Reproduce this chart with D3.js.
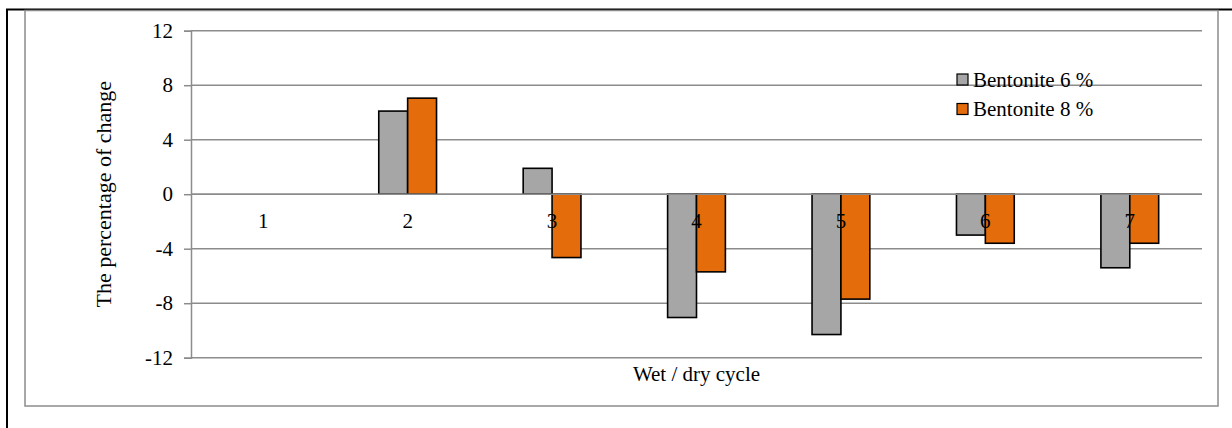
<!DOCTYPE html>
<html>
<head>
<meta charset="utf-8">
<script src="https://cdn.jsdelivr.net/npm/d3@7"></script>
<style>
  html, body { margin: 0; padding: 0; background: #fff; }
  svg { display: block; }
  svg text { font-family: "Liberation Serif", "Times New Roman", Times, serif !important; fill: #000; }
</style>
</head>
<body>
<svg id="chart" width="1232" height="428"></svg>
<script>
// Wet / dry cycle numbers
const cycles = ["1", "2", "3", "4", "5", "6", "7"];
// Percentage of change per cycle
const bentonite6 = [0, 6.1, 1.9, -9.05, -10.3, -3.0, -5.4];
const bentonite8 = [0, 7.05, -4.65, -5.7, -7.7, -3.6, -3.6];
const seriesNames = ["Bentonite 6 %", "Bentonite 8 %"];
const seriesColors = ["#a6a6a6", "#e46c0a"];
const yTicks = [-12, -8, -4, 0, 4, 8, 12];

const rows = cycles.map((c, i) => ({ cycle: c, values: [bentonite6[i], bentonite8[i]] }));

const serif = '"Liberation Serif", "Times New Roman", Times, serif';
const svg = d3.select("#chart").attr("font-family", serif);
const font = 21;
const grid = "#8c8c8c";

// outer frame (black) and chart frame (gray)
svg.append("path")
  .attr("d", "M7,428 L7,9.5 L1232,9.5")
  .attr("fill", "none").attr("stroke", "#000").attr("stroke-width", 2);
svg.append("rect")
  .attr("x", 25).attr("y", 10.5).attr("width", 1193).attr("height", 395.5)
  .attr("fill", "#fff").attr("stroke", grid).attr("stroke-width", 1.5);

const plot = { left: 191, right: 1202, top: 30.7, bottom: 357.7 };

const x = d3.scaleBand()
  .domain(cycles)
  .range([plot.left, plot.right])
  .paddingInner(0.6)
  .paddingOuter(0.3);

const xs = d3.scaleBand()
  .domain([0, 1])
  .range([0, x.bandwidth()]);

const y = d3.scaleLinear()
  .domain([-12, 12])
  .range([plot.bottom, plot.top]);

// horizontal gridlines
svg.append("g")
  .selectAll("line")
  .data(yTicks)
  .join("line")
  .attr("x1", plot.left).attr("x2", plot.right)
  .attr("y1", d => y(d)).attr("y2", d => y(d))
  .attr("stroke", grid).attr("stroke-width", 1.5);

// value axis
const yAxis = svg.append("g")
  .attr("transform", `translate(${plot.left},0)`)
  .call(d3.axisLeft(y).tickValues(yTicks).tickSize(7).tickPadding(11).tickFormat(d => String(d)));
yAxis.attr("font-family", serif).attr("font-size", font);
yAxis.select(".domain").attr("stroke", grid).attr("stroke-width", 1.5);
yAxis.selectAll(".tick line").attr("stroke", grid).attr("stroke-width", 1.5);
yAxis.selectAll(".tick text").attr("fill", "#000");

// bars
const groups = svg.append("g")
  .selectAll("g")
  .data(rows)
  .join("g")
  .attr("transform", d => `translate(${x(d.cycle)},0)`);

groups.selectAll("rect")
  .data(d => d.values.map((v, k) => ({ v, k })).filter(e => e.v !== 0))
  .join("rect")
  .attr("x", e => xs(e.k))
  .attr("width", xs.bandwidth())
  .attr("y", e => y(Math.max(0, e.v)))
  .attr("height", e => Math.abs(y(e.v) - y(0)))
  .attr("fill", e => seriesColors[e.k])
  .attr("stroke", "#000")
  .attr("stroke-width", 1.6);

// zero line on top of bar bases
svg.append("line")
  .attr("x1", plot.left).attr("x2", plot.right)
  .attr("y1", y(0)).attr("y2", y(0))
  .attr("stroke", grid).attr("stroke-width", 1.5);

// category labels next to the zero line
svg.append("g")
  .selectAll("text")
  .data(cycles)
  .join("text")
  .attr("x", d => x(d) + x.bandwidth() / 2)
  .attr("y", y(0) + 34)
  .attr("text-anchor", "middle")
  .attr("font-size", font)
  .text(d => d);

// axis titles
svg.append("text")
  .attr("x", (plot.left + plot.right) / 2)
  .attr("y", 381)
  .attr("text-anchor", "middle")
  .attr("font-size", font)
  .text("Wet / dry cycle");

svg.append("text")
  .attr("transform", `translate(111,${(plot.top + plot.bottom) / 2}) rotate(-90)`)
  .attr("text-anchor", "middle")
  .attr("font-size", 22)
  .text("The percentage of change");

// legend
const legend = svg.append("g")
  .attr("transform", "translate(957,74)");
const items = legend.selectAll("g")
  .data(seriesNames)
  .join("g")
  .attr("transform", (d, i) => `translate(0,${i * 29.5})`);
items.append("rect")
  .attr("width", 11).attr("height", 11)
  .attr("fill", (d, i) => seriesColors[i])
  .attr("stroke", "#000").attr("stroke-width", 1.2);
items.append("text")
  .attr("x", 16).attr("y", 12.5)
  .attr("font-size", font)
  .text(d => d);
</script>
</body>
</html>
